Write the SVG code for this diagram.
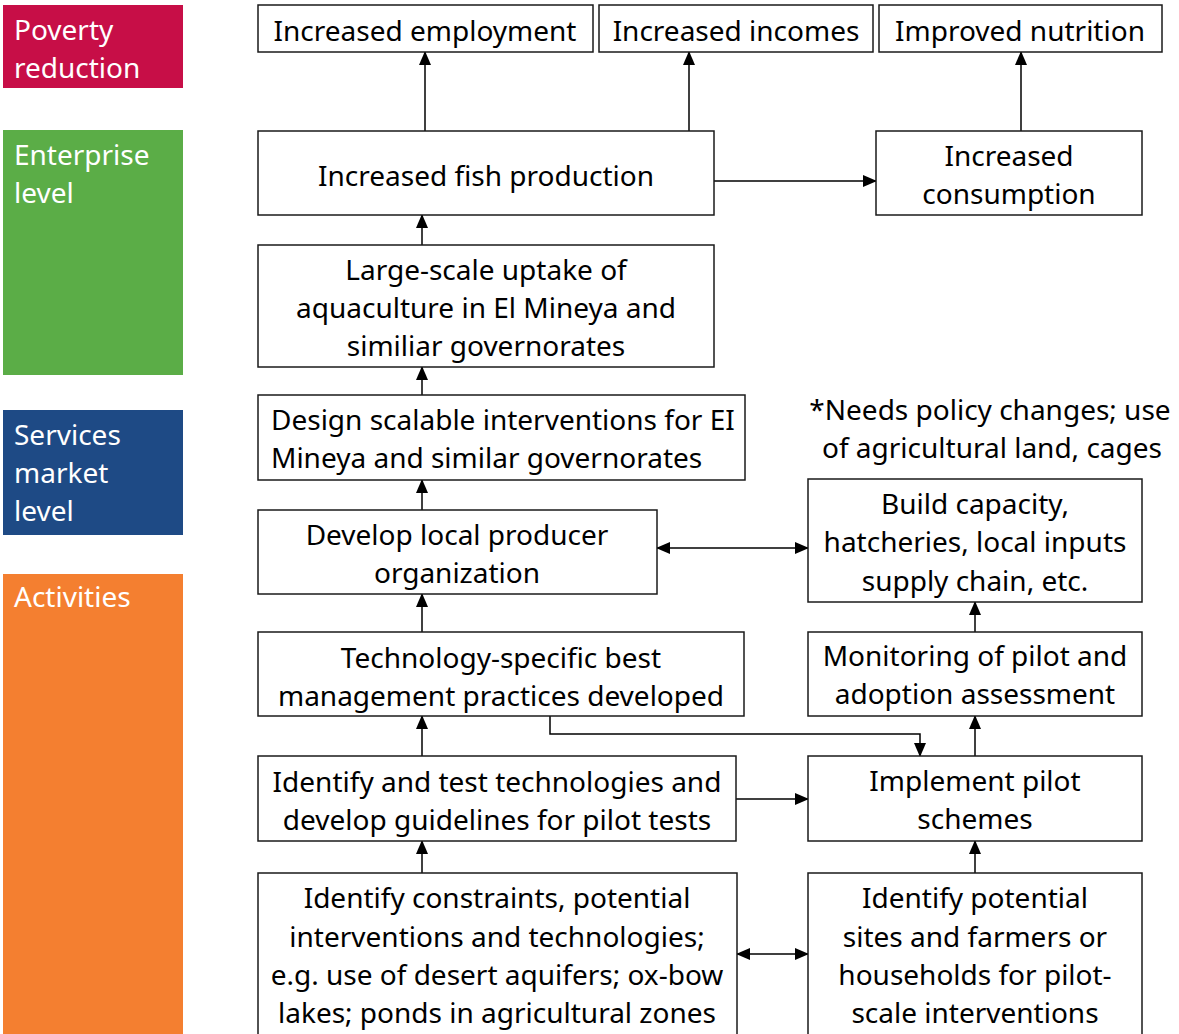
<svg xmlns="http://www.w3.org/2000/svg" width="1179" height="1034" viewBox="0 0 1179 1034">
<defs>
<marker id="ah" markerUnits="userSpaceOnUse" markerWidth="14" markerHeight="12" refX="13" refY="6" orient="auto-start-reverse">
<path d="M0,0 L14,6 L0,12 Z" fill="#000"/>
</marker>
</defs>
<style>
.lvl{font-family:"Noto Sans","Liberation Sans",sans-serif;font-size:28px;fill:#fff}
.box{fill:#fff;stroke:#1a1a1a;stroke-width:1.5}
.t{font-family:"Noto Sans","Liberation Sans",sans-serif;font-size:28px;fill:#000;text-anchor:middle}
.tl{font-family:"Noto Sans","Liberation Sans",sans-serif;font-size:28px;fill:#000}
.c{fill:none;stroke:#000;stroke-width:1.5}
.ar{marker-end:url(#ah)}
.dar{marker-start:url(#ah);marker-end:url(#ah)}
</style>
<rect width="1179" height="1034" fill="#fff"/>
<g id="levels">
<g id="lvl-poverty"><rect x="3" y="5" width="180" height="83" fill="#C70E47"/><text class="lvl" x="14" y="40">Poverty</text><text class="lvl" x="14" y="78">reduction</text></g>
<g id="lvl-enterprise"><rect x="3" y="130" width="180" height="245" fill="#5BAD47"/><text class="lvl" x="14" y="165">Enterprise</text><text class="lvl" x="14" y="203">level</text></g>
<g id="lvl-services"><rect x="3" y="410" width="180" height="125" fill="#1E4A85"/><text class="lvl" x="14" y="445">Services</text><text class="lvl" x="14" y="483">market</text><text class="lvl" x="14" y="521">level</text></g>
<g id="lvl-activities"><rect x="3" y="574" width="180" height="460" fill="#F47F30"/><text class="lvl" x="14" y="607">Activities</text></g>
</g>
<g id="connectors">
<line class="c ar" x1="425" y1="131" x2="425" y2="52"/>
<line class="c ar" x1="689" y1="131" x2="689" y2="52"/>
<line class="c ar" x1="1021" y1="131" x2="1021" y2="52"/>
<line class="c ar" x1="714" y1="181" x2="876" y2="181"/>
<line class="c ar" x1="422" y1="245" x2="422" y2="215"/>
<line class="c ar" x1="422" y1="395" x2="422" y2="367"/>
<line class="c ar" x1="422" y1="510" x2="422" y2="480"/>
<line class="c ar" x1="422" y1="632" x2="422" y2="594"/>
<line class="c ar" x1="422" y1="756" x2="422" y2="716"/>
<line class="c ar" x1="422" y1="873" x2="422" y2="841"/>
<line class="c dar" x1="657" y1="548" x2="808" y2="548"/>
<line class="c ar" x1="975" y1="632" x2="975" y2="602"/>
<line class="c ar" x1="975" y1="756" x2="975" y2="716"/>
<line class="c ar" x1="975" y1="873" x2="975" y2="841"/>
<line class="c ar" x1="736" y1="799" x2="808" y2="799"/>
<polyline class="c ar" points="550,716 550,734 920,734 920,756"/>
<line class="c dar" x1="737" y1="954" x2="808" y2="954"/>
</g>
<g id="n-employment"><rect class="box" x="258" y="5" width="335" height="47"/><text class="t" x="425" y="41">Increased employment</text></g>
<g id="n-incomes"><rect class="box" x="599" y="5" width="274" height="47"/><text class="t" x="736" y="41">Increased incomes</text></g>
<g id="n-nutrition"><rect class="box" x="879" y="5" width="283" height="47"/><text class="t" x="1020" y="41">Improved nutrition</text></g>
<g id="n-fish"><rect class="box" x="258" y="131" width="456" height="84"/><text class="t" x="486" y="186">Increased fish production</text></g>
<g id="n-consumption"><rect class="box" x="876" y="131" width="266" height="84"/><text class="t" x="1009" y="166">Increased</text><text class="t" x="1009" y="204">consumption</text></g>
<g id="n-uptake"><rect class="box" x="258" y="245" width="456" height="122"/><text class="t" x="486" y="280">Large-scale uptake of</text><text class="t" x="486" y="318">aquaculture in El Mineya and</text><text class="t" x="486" y="356">similiar governorates</text></g>
<g id="n-design"><rect class="box" x="258" y="395" width="487" height="85"/><text class="tl" x="271" y="430">Design scalable interventions for EI</text><text class="tl" x="271" y="468">Mineya and similar governorates</text></g>
<g id="note"><text class="t" x="990" y="420">*Needs policy changes; use</text><text class="t" x="992" y="458">of agricultural land, cages</text></g>
<g id="n-capacity"><rect class="box" x="808" y="479" width="334" height="123"/><text class="t" x="975" y="514">Build capacity,</text><text class="t" x="975" y="552">hatcheries, local inputs</text><text class="t" x="975" y="591">supply chain, etc.</text></g>
<g id="n-producer"><rect class="box" x="258" y="510" width="399" height="84"/><text class="t" x="457" y="545">Develop local producer</text><text class="t" x="457" y="583">organization</text></g>
<g id="n-bmp"><rect class="box" x="258" y="632" width="486" height="84"/><text class="t" x="501" y="668">Technology-specific best</text><text class="t" x="501" y="706">management practices developed</text></g>
<g id="n-monitoring"><rect class="box" x="808" y="632" width="334" height="84"/><text class="t" x="975" y="666">Monitoring of pilot and</text><text class="t" x="975" y="704">adoption assessment</text></g>
<g id="n-test"><rect class="box" x="258" y="756" width="478" height="85"/><text class="t" x="497" y="792">Identify and test technologies and</text><text class="t" x="497" y="830">develop guidelines for pilot tests</text></g>
<g id="n-pilot"><rect class="box" x="808" y="756" width="334" height="85"/><text class="t" x="975" y="791">Implement pilot</text><text class="t" x="975" y="829">schemes</text></g>
<g id="n-constraints"><rect class="box" x="258" y="873" width="479" height="170"/><text class="t" x="497" y="908">Identify constraints, potential</text><text class="t" x="497" y="947">interventions and technologies;</text><text class="t" x="497" y="985">e.g. use of desert aquifers; ox-bow</text><text class="t" x="497" y="1023">lakes; ponds in agricultural zones</text></g>
<g id="n-sites"><rect class="box" x="808" y="873" width="334" height="170"/><text class="t" x="975" y="908">Identify potential</text><text class="t" x="975" y="947">sites and farmers or</text><text class="t" x="975" y="985">households for pilot-</text><text class="t" x="975" y="1023">scale interventions</text></g>
</svg>
